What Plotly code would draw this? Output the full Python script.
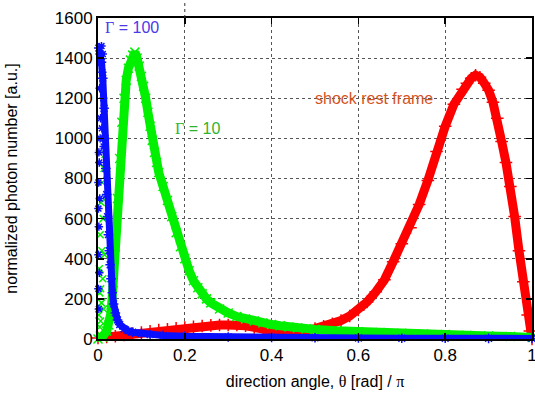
import plotly.graph_objects as go

# ---- data ----
shock_x = [0.0, 0.02, 0.04, 0.06, 0.08, 0.10, 0.12, 0.14, 0.16, 0.18, 0.20, 0.22, 0.24, 0.26,
           0.28, 0.30, 0.32, 0.34, 0.36, 0.38, 0.40, 0.42, 0.44, 0.46, 0.48, 0.50, 0.52, 0.54,
           0.56, 0.58, 0.60, 0.62, 0.64, 0.66, 0.68, 0.70, 0.72, 0.74, 0.76, 0.78, 0.80, 0.82,
           0.84, 0.85, 0.86, 0.87, 0.88, 0.89, 0.90, 0.91, 0.92, 0.93, 0.94, 0.95, 0.96, 0.97,
           0.98, 0.99, 0.995, 1.0]
shock_y = [5, 10, 14, 20, 26, 32, 38, 44, 48, 53, 57, 61, 65, 68,
           70, 70, 70, 66, 58, 48, 40, 33, 30, 33, 42, 52, 63, 76,
           92, 115, 145, 185, 235, 295, 385, 475, 555, 670, 790, 935, 1060, 1170,
           1245, 1275, 1300, 1315, 1305, 1275, 1240, 1180, 1100, 985, 880, 760, 610, 440,
           285, 120, 40, 0]

g10_x = [0.0, 0.01, 0.02, 0.025, 0.03, 0.035, 0.04, 0.045, 0.05, 0.055, 0.06, 0.065, 0.07,
         0.075, 0.08, 0.085, 0.09, 0.095, 0.10, 0.105, 0.11, 0.115, 0.12, 0.125, 0.13, 0.135,
         0.14, 0.15, 0.16, 0.17, 0.18, 0.19, 0.20, 0.21, 0.22, 0.23, 0.24, 0.25, 0.26, 0.28,
         0.30, 0.32, 0.34, 0.36, 0.38, 0.40, 0.42, 0.44, 0.46, 0.48, 0.50, 0.55, 0.60, 0.65,
         0.70, 0.75, 0.80, 0.85, 0.90, 0.95, 1.0]
g10_y = [0, 10, 40, 70, 130, 280, 460, 700, 900, 1080, 1200, 1290, 1350,
         1390, 1415, 1430, 1400, 1360, 1310, 1260, 1200, 1130, 1060, 990, 930, 880,
         830, 760, 690, 610, 530, 460, 400, 340, 290, 255, 225, 200, 180, 150,
         130, 112, 100, 90, 80, 72, 66, 60, 55, 51, 48, 41, 36, 32,
         28, 25, 22, 18, 15, 12, 8]
# scattered points of the Gamma=10 sample close to theta = 0
g10_sx = [0.002, 0.003, 0.004, 0.005, 0.006, 0.007, 0.008, 0.009, 0.010, 0.011, 0.012,
          0.014, 0.015, 0.016, 0.018, 0.020, 0.003, 0.006, 0.004, 0.013]
g10_sy = [120, 350, 60, 520, 250, 680, 180, 440, 780, 300, 600,
          850, 420, 920, 700, 820, 20, 90, 230, 150]

g100_x = [0.002, 0.005, 0.008, 0.011, 0.014, 0.016, 0.018, 0.020, 0.022, 0.024, 0.026,
          0.028, 0.030, 0.033, 0.036, 0.040, 0.045, 0.05, 0.06, 0.07, 0.08, 0.10, 0.12,
          0.15, 0.20, 0.30, 0.40, 0.50, 0.60, 0.70, 0.80, 0.90, 1.0]
g100_y = [1450, 1420, 1380, 1300, 1150, 1000, 850, 720, 610, 520, 440,
          370, 300, 230, 175, 130, 95, 72, 50, 40, 34, 28, 22,
          18, 14, 10, 8, 6, 5, 4, 4, 3, 3]
# scattered points of the Gamma=100 sample close to theta = 0
g100_sx = [0.001, 0.001, 0.002, 0.001, 0.003, 0.002, 0.004, 0.006, 0.008, 0.010, 0.012,
           0.005, 0.007, 0.009, 0.011, 0.013, 0.003, 0.001, 0.002, 0.004]
g100_sy = [650, 420, 560, 250, 880, 930, 1250, 1100, 1460, 1330, 1200,
           1000, 1380, 1050, 1420, 960, 330, 780, 150, 700]

x_ticks = [0, 0.2, 0.4, 0.6, 0.8, 1]
x_tick_labels = ["0", "0.2", "0.4", "0.6", "0.8", "1"]
y_ticks = [0, 200, 400, 600, 800, 1000, 1200, 1400, 1600]

RED = "#ff0000"
GREEN = "#00f000"
BLUE = "#0a10ff"
FONT = "Liberation Sans"
SERIF = "Liberation Serif"

fig = go.Figure()

fig.add_trace(go.Scatter(x=shock_x, y=shock_y, mode="lines+markers",
                         line=dict(color=RED, width=9),
                         marker=dict(symbol="cross-thin-open", size=9, color=RED,
                                     line=dict(width=1.5, color=RED)),
                         cliponaxis=False, showlegend=False))
fig.add_trace(go.Scatter(x=g10_x, y=g10_y, mode="lines+markers",
                         line=dict(color=GREEN, width=9),
                         marker=dict(symbol="x-thin-open", size=9, color=GREEN,
                                     line=dict(width=1.5, color=GREEN)),
                         cliponaxis=False, showlegend=False))
fig.add_trace(go.Scatter(x=g10_sx, y=g10_sy, mode="markers",
                         marker=dict(symbol="x-thin-open", size=7, color=GREEN,
                                     line=dict(width=1.5, color=GREEN)),
                         cliponaxis=False, showlegend=False))
fig.add_trace(go.Scatter(x=g100_x, y=g100_y, mode="lines+markers",
                         line=dict(color=BLUE, width=7),
                         marker=dict(symbol="asterisk-open", size=8, color=BLUE,
                                     line=dict(width=1.5, color=BLUE)),
                         cliponaxis=False, showlegend=False))
fig.add_trace(go.Scatter(x=g100_sx, y=g100_sy, mode="markers",
                         marker=dict(symbol="asterisk-open", size=7, color=BLUE,
                                     line=dict(width=1.5, color=BLUE)),
                         cliponaxis=False, showlegend=False))

G = lambda s: f'<span style="font-family:{SERIF}">{s}</span>'

fig.add_annotation(x=0.012, y=1552, xref="x", yref="y", text=G("Γ") + " = 100",
                   showarrow=False, xanchor="left", yanchor="middle",
                   font=dict(family=FONT, size=16, color="#4a3ae8"))
fig.add_annotation(x=0.172, y=1047, xref="x", yref="y", text=G("Γ") + " = 10",
                   showarrow=False, xanchor="left", yanchor="middle",
                   font=dict(family=FONT, size=16, color="#2fb42f"))
fig.add_annotation(x=0.637, y=1201, xref="x", yref="y", text="shock rest frame",
                   showarrow=False, xanchor="center", yanchor="middle",
                   font=dict(family=FONT, size=16, color="#d5531f"))

# stray dotted grid fragment above the frame
fig.add_shape(type="line", xref="x", yref="paper", x0=0.2, x1=0.2, y0=1.0, y1=1.06,
              line=dict(color="#333333", width=1, dash="dot"))

axis_common = dict(showline=True, linecolor="black", linewidth=2, mirror="ticks",
                   ticks="inside", ticklen=6, tickwidth=1.5, tickcolor="black",
                   showgrid=True, gridcolor="#555555", griddash="dot", gridwidth=1,
                   zeroline=False, automargin=False, ticklabeloverflow="allow",
                   tickfont=dict(family=FONT, size=17, color="black"))

fig.update_xaxes(range=[0, 1], tickvals=x_ticks, ticktext=x_tick_labels,
                 title=dict(text="direction angle, " + G("θ") + " [rad] / " + G("π"),
                            font=dict(family=FONT, size=16, color="black"), standoff=11),
                 **axis_common)
fig.update_yaxes(range=[0, 1600], tickvals=y_ticks,
                 title=dict(text="normalized photon number [a.u.]",
                            font=dict(family=FONT, size=16, color="black"), standoff=33),
                 **axis_common)

fig.update_layout(width=535, height=394, autosize=False, hovermode=False,
                  margin=dict(l=98, r=3, t=18, b=55),
                  paper_bgcolor="white", plot_bgcolor="white")

fig.write_html("out.html", config={"displayModeBar": False, "staticPlot": True},
               post_script="document.body.style.margin='0';document.body.style.overflow='hidden';")
